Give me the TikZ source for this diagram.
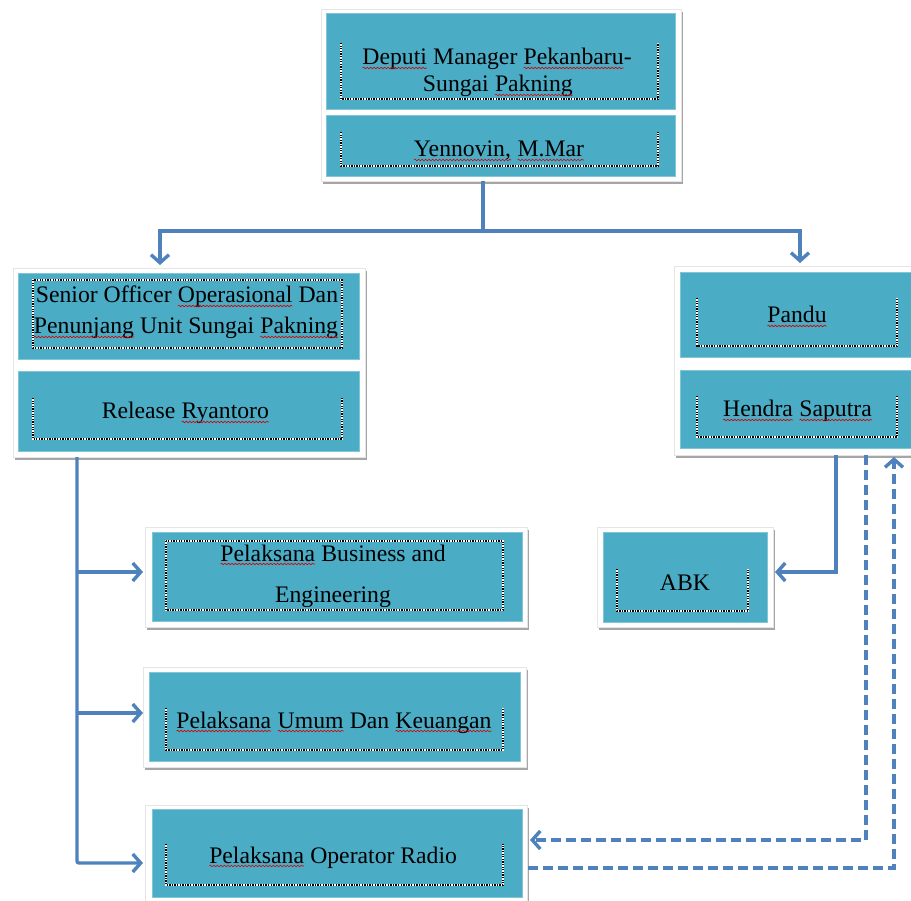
\documentclass[tikz,border=0pt]{standalone}
\usepackage{fontspec}
\setmainfont{Liberation Serif}
\usetikzlibrary{arrows.meta,shadows,decorations.pathmorphing}
\definecolor{tealfill}{HTML}{4BACC6}
\definecolor{lnc}{HTML}{4F81BD}
\newcommand\rw[1]{\tikz[baseline=0pt,x=1pt,y=1pt]{\node[anchor=base west,inner sep=0pt,outer sep=0pt] (w) {#1};
  \draw[red!85!black,line width=.6pt,decorate,decoration={snake,amplitude=.8pt,segment length=3.5pt}] ([yshift=-3pt]w.base west) -- ([yshift=-3pt]w.base east);}}
\newcommand\bx[6][]{\node[#1,minimum width={#4-#2},minimum height={#5-#3}] (#6) at ({(#2+#4)/2},{(#3+#5)/2}) {};}
\newcommand\opendot[1]{%
  \draw[dotbg] (#1.north west) |- (#1.south east) -- (#1.north east);
  \draw[dotfg] (#1.north west) |- (#1.south east) -- (#1.north east);}
\newcommand\fulldot[1]{%
  \draw[dotbg] (#1.north west) rectangle (#1.south east);
  \draw[dotfg] (#1.north west) rectangle (#1.south east);}
\tikzset{
  frame/.style={fill=white,draw=black!10,line width=.6pt,inner sep=0pt,outer sep=0pt,
    drop shadow={shadow xshift=1.5pt,shadow yshift=-3pt,opacity=.35,fill=black}},
  tealbox/.style={fill=tealfill,draw=tealfill!70!white,line width=.6pt,inner sep=0pt,outer sep=0pt},
  dbox/.style={inner sep=0pt,outer sep=0pt},
  dotbg/.style={draw=white,line width=1.3pt},
  dotfg/.style={draw=black,line width=1.3pt,dash pattern=on 1.3pt off 1.3pt},
  txt/.style={anchor=base,inner sep=0pt,font=\fontsize{23.7}{28}\selectfont,text=black},
  ln/.style={draw=lnc,line width=3.4pt},
  arr/.style={ln,-{Straight Barb[length=8pt,width=18pt]}},
  darr/.style={arr,dash pattern=on 10pt off 5pt},
}
\begin{document}
\begin{tikzpicture}[x=1pt,y=-1pt]
\useasboundingbox (0,0) rectangle (911,901);
% white frames
\bx[frame]{321}{9}{681}{181}{topF}
\bx[frame]{13}{268}{365}{457}{senF}
\bx[frame]{674}{266}{925}{455}{panF}
\bx[frame]{597}{527}{773}{627}{abkF}
\bx[frame]{145}{527}{527}{627}{busF}
\bx[frame]{143}{667}{526}{767}{umF}
\bx[frame]{145}{805}{527}{910}{radF}
% teal boxes
\bx[tealbox]{326}{13}{675}{109}{dep}
\bx[tealbox]{326}{115}{675}{176}{yen}
\bx[tealbox]{18}{273}{359}{359}{sen}
\bx[tealbox]{18}{371}{359}{451}{rel}
\bx[tealbox]{680}{272}{914}{357}{pan}
\bx[tealbox]{680}{370}{914}{448}{hen}
\bx[tealbox]{603}{532}{767}{622}{abk}
\bx[tealbox]{152}{532}{522}{621}{bus}
\bx[tealbox]{149}{672}{520}{761}{um}
\bx[tealbox]{152}{809}{522}{897}{rad}
% dotted text frames
\bx[dbox]{341}{43}{658}{99}{depD}
\bx[dbox]{341}{132}{658}{166}{yenD}
\bx[dbox]{33}{280}{342}{348}{senD}
\bx[dbox]{33}{398}{342}{439}{relD}
\bx[dbox]{697}{298}{897}{346}{panD}
\bx[dbox]{697}{396}{897}{437}{henD}
\bx[dbox]{617}{569}{748}{611}{abkD}
\bx[dbox]{166}{541}{503}{610}{busD}
\bx[dbox]{166}{708}{503}{750}{umD}
\bx[dbox]{166}{844}{503}{885}{radD}
\opendot{depD}\opendot{yenD}\fulldot{senD}\opendot{relD}
\opendot{panD}\opendot{henD}\opendot{abkD}\fulldot{busD}
\opendot{umD}\opendot{radD}
% texts
\node[txt] (t1a) at (497,65) {\rw{Deputi} Manager \rw{Pekanbaru}-};
\node[txt] (t1b) at (498,92) {Sungai \rw{Pakning}};
\node[txt] (t2) at (499,157) {\rw{Yennovin,} \rw{M.Mar}};
\node[txt] (t3a) at (187,303) {Senior Officer \rw{Operasional} Dan};
\node[txt] (t3b) at (186,334) {\rw{Penunjang} Unit Sungai \rw{Pakning}};
\node[txt] (t4) at (185.5,419) {Release \rw{Ryantoro}};
\node[txt] (t5) at (797,323) {\rw{Pandu}};
\node[txt] (t6) at (797.5,417) {\rw{Hendra} \rw{Saputra}};
\node[txt] (t7) at (685,590) {ABK};
\node[txt] (t8a) at (333,561) {\rw{Pelaksana} Business and};
\node[txt] (t8b) at (333,602) {Engineering};
\node[txt] (t9) at (334,728) {\rw{Pelaksana} \rw{Umum} Dan \rw{Keuangan}};
\node[txt] (t10) at (333,863) {\rw{Pelaksana} Operator Radio};
% connector coordinates
\coordinate (j0) at (483,231);
\coordinate (jl) at (160,231);
\coordinate (jr) at (800,231);
\coordinate (lx) at (77,0);
\coordinate (ba) at (143,572);
\coordinate (ua) at (143,713);
\coordinate (ra) at (143,863);
\coordinate (ha) at (836,572);
\coordinate (aa) at (775,572);
\coordinate (da) at (866,840);
\coordinate (rda) at (530,840);
\coordinate (db) at (894,868);
\coordinate (rdb) at (528,868);
% connectors
\draw[ln] (topF.south -| j0) -- (j0);
\draw[arr,shorten >=3pt] (j0) -| (senF.north -| jl);
\draw[arr,shorten >=3pt] (j0) -| (panF.north -| jr);
\draw[arr,rounded corners=2pt] (senF.south -| lx) |- (ra);
\draw[arr] (ba -| lx) -- (ba);
\draw[arr] (ua -| lx) -- (ua);
\draw[arr] (panF.south -| ha) |- (aa);
\draw[darr] (panF.south -| da) |- (rda);
\draw[darr,shorten >=2pt] (rdb) -| (panF.south -| db);
\end{tikzpicture}
\end{document}
